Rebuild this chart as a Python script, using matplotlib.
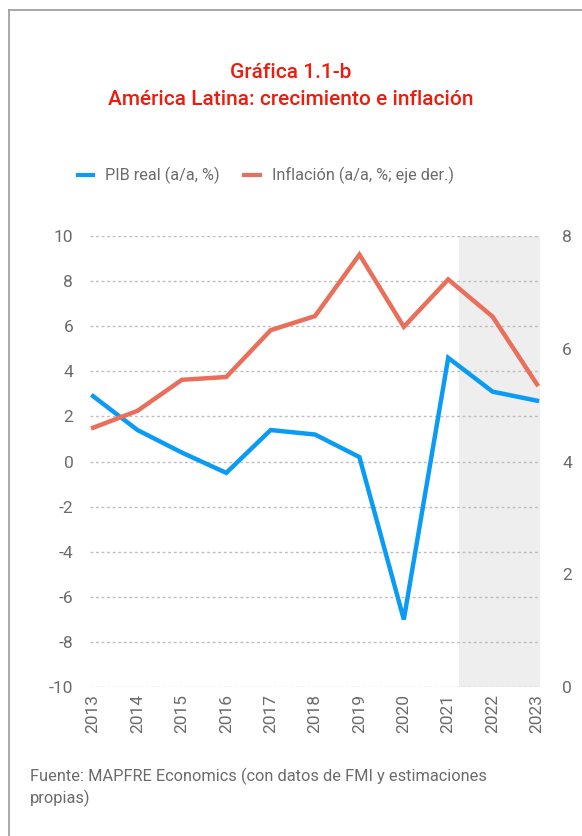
import matplotlib.pyplot as plt
from matplotlib.lines import Line2D

plt.rcParams["axes.unicode_minus"] = False

# Data
years = [2013, 2014, 2015, 2016, 2017, 2018, 2019, 2020, 2021, 2022, 2023]
pib = [2.9, 1.4, 0.4, -0.5, 1.4, 1.2, 0.2, -7.0, 4.6, 3.1, 2.7]
inflacion = [4.6, 4.9, 5.45, 5.5, 6.33, 6.58, 7.67, 6.39, 7.23, 6.57, 5.37]
left_ticks = [-10, -8, -6, -4, -2, 0, 2, 4, 6, 8, 10]
right_ticks = [0, 2, 4, 6, 8]

blue = "#0a9bf5"
red = "#ea6f5a"
grey_txt = "#6b6b6b"
font = "Roboto"

fig = plt.figure(figsize=(5.82, 8.36), dpi=100)

# frame lines (left and top)
fig.add_artist(Line2D([0.0155, 0.0155], [0, 0.988], color="#9a9a9a", lw=1.2))
fig.add_artist(Line2D([0.0155, 1.0], [0.988, 0.988], color="#9a9a9a", lw=1.2))

fig.text(0.5, 0.913, "Gráfica 1.1-b", ha="center", va="center",
         color="#ee1c0c", fontsize=15, family=font, fontweight="medium")
fig.text(0.5, 0.881, "América Latina: crecimiento e inflación", ha="center",
         va="center", color="#ee1c0c", fontsize=15, family=font, fontweight="medium")

ax = fig.add_axes([0.1546, 0.178, 0.7734, 0.5397])
ax2 = ax.twinx()

ax.axvspan(2021.25, 2023.07, color="#eeeeee", lw=0, zorder=0)
for t in left_ticks:
    ax.axhline(t, color="#bdbdbd", lw=1, ls=(0, (2, 2)), zorder=1)

ax.plot(years, pib, color=blue, lw=3.2, zorder=3, solid_joinstyle="miter")
ax2.plot(years, inflacion, color=red, lw=3.2, zorder=3, solid_joinstyle="miter")

ax.set_xlim(2012.93, 2023.07)
ax.set_ylim(-10, 10)
ax2.set_ylim(0, 8)
ax.set_yticks(left_ticks)
ax2.set_yticks(right_ticks)
ax.set_xticks(years)
ax.set_xticklabels([str(y) for y in years], rotation=90)

for a in (ax, ax2):
    for s in a.spines.values():
        s.set_visible(False)
    a.tick_params(length=0, labelsize=12.5, labelcolor=grey_txt)
    for lab in a.get_xticklabels() + a.get_yticklabels():
        lab.set_family(font)
ax.tick_params(axis="y", pad=12)
ax.tick_params(axis="x", pad=5)
ax2.tick_params(axis="y", pad=16)
ax.set_facecolor("none")
ax2.set_zorder(ax.get_zorder() + 1)
ax2.patch.set_visible(False)

handles = [Line2D([], [], color=blue, lw=3), Line2D([], [], color=red, lw=3)]
fig.legend(handles, ["PIB real (a/a, %)", "Inflación (a/a, %; eje der.)"],
           loc="center", bbox_to_anchor=(0.457, 0.79), ncol=2, frameon=False,
           handlelength=0.95, columnspacing=1.5, handletextpad=0.75,
           prop={"family": font, "size": 11.7}, labelcolor=grey_txt)

fig.text(0.052, 0.058, "Fuente: MAPFRE Economics (con datos de FMI y estimaciones\npropias)",
         ha="left", va="center", color=grey_txt, fontsize=11.8, family=font,
         linespacing=1.35)

fig.savefig("out.png", dpi=100, facecolor="white")
